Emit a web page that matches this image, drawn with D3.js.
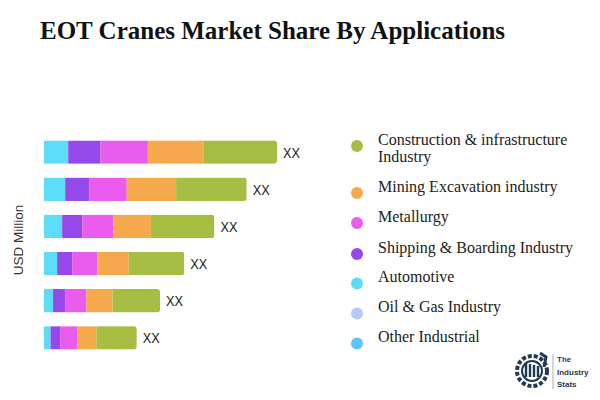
<!DOCTYPE html>
<html>
<head>
<meta charset="utf-8">
<script src="https://cdn.jsdelivr.net/npm/d3@7"></script>
<style>
  body { margin: 0; background: #fff; }
  svg { display: block; }
</style>
</head>
<body>
<div id="container"></div>
<script>
// chart data
var rows = ["r1", "r2", "r3", "r4", "r5", "r6"];
var automotive   = [24, 21, 18, 13, 9, 6.5];
var shipping     = [32, 24, 20, 15, 12, 9.5];
var metallurgy   = [47, 37, 31, 25, 21, 17];
var mining       = [55, 49, 37, 31, 26, 19];
var construction = [73, 70, 63, 55, 47, 40];
var barLabels = ["XX", "XX", "XX", "XX", "XX", "XX"];

var legendNames = ["Construction & infrastructure Industry", "Mining Excavation industry", "Metallurgy",
  "Shipping & Boarding Industry", "Automotive", "Oil & Gas Industry", "Other Industrial"];
var legendColors = ["#a5bd42", "#f5a84c", "#ea5ced", "#9549ea", "#5ddcf8", "#b4c8fb", "#5bc4f8"];

var w = 600, h = 400;

var svg = d3.select("div#container")
  .append("svg")
  .attr("width", w)
  .attr("height", h);

svg.append("text")
  .attr("x", 40)
  .attr("y", 39)
  .attr("font-family", "Liberation Serif, Times New Roman, serif")
  .attr("font-weight", "bold")
  .attr("font-size", 25)
  .attr("fill", "#111")
  .text("EOT Cranes Market Share By Applications");

// stack segments left to right
var keys = ["automotive", "shipping", "metallurgy", "mining", "construction"];
var segColors = ["#5ddcf8", "#9549ea", "#ea5ced", "#f5a84c", "#a5bd42"];
var table = rows.map(function(r, i) {
  return { row: r, automotive: automotive[i], shipping: shipping[i], metallurgy: metallurgy[i],
           mining: mining[i], construction: construction[i] };
});
var series = d3.stack().keys(keys)(table);

var x = d3.scaleLinear().domain([0, 231]).range([44, 277]);
var y = d3.scaleBand().domain(rows).range([133, 357]).paddingInner(0.37).paddingOuter(0.2);

var defs = svg.append("defs");
table.forEach(function(d, i) {
  var total = d3.sum(keys, function(k) { return d[k]; });
  defs.append("clipPath").attr("id", "clip" + i)
    .append("rect")
    .attr("x", x(0) - 4)
    .attr("y", y(d.row))
    .attr("width", x(total) - x(0) + 4)
    .attr("height", y.bandwidth())
    .attr("rx", 3);
});

var bars = svg.append("g");
series.forEach(function(s, si) {
  bars.append("g")
    .attr("fill", segColors[si])
    .selectAll("rect")
    .data(s)
    .join("rect")
    .attr("clip-path", function(d, i) { return "url(#clip" + i + ")"; })
    .attr("x", function(d) { return x(d[0]); })
    .attr("y", function(d) { return y(d.data.row); })
    .attr("width", function(d) { return x(d[1]) - x(d[0]); })
    .attr("height", y.bandwidth());
});

svg.append("g")
  .selectAll("text")
  .data(table)
  .join("text")
  .attr("x", function(d) { return x(d3.sum(keys, function(k) { return d[k]; })) + 6; })
  .attr("y", function(d) { return y(d.row) + y.bandwidth() / 2 + 5.5; })
  .attr("font-family", "Liberation Sans, Arial, sans-serif")
  .attr("font-size", 15)
  .attr("textLength", 17)
  .attr("lengthAdjust", "spacingAndGlyphs")
  .attr("fill", "#222")
  .text(function(d, i) { return barLabels[i]; });

svg.append("text")
  .attr("transform", "translate(22.5,240) rotate(-90)")
  .attr("text-anchor", "middle")
  .attr("font-family", "Liberation Sans, Arial, sans-serif")
  .attr("font-size", 13.5)
  .attr("fill", "#333")
  .text("USD Million");

// legend
var legendY = [146, 193, 223, 254, 283.5, 313.5, 343.5];
var legend = svg.append("g")
  .selectAll("g")
  .data(legendNames)
  .join("g")
  .attr("transform", function(d, i) { return "translate(357," + legendY[i] + ")"; });

legend.append("circle")
  .attr("r", 6)
  .attr("fill", function(d, i) { return legendColors[i]; });

legend.append("text")
  .attr("font-family", "Liberation Serif, Times New Roman, serif")
  .attr("font-size", 16)
  .attr("fill", "#222")
  .each(function(d, i) {
    var t = d3.select(this);
    if (i === 0) {
      t.append("tspan").attr("x", 21).attr("y", -1).text("Construction & infrastructure");
      t.append("tspan").attr("x", 21).attr("y", 16).text("Industry");
    } else {
      t.append("tspan").attr("x", 21).attr("y", -1.5).text(d);
    }
  });

// logo
var logo = svg.append("g").attr("transform", "translate(532,371)");
logo.append("circle").attr("r", 15).attr("fill", "none").attr("stroke", "#1f3b52").attr("stroke-width", 4)
  .attr("stroke-dasharray", "4 2");
logo.append("circle").attr("r", 10).attr("fill", "none").attr("stroke", "#1f3b52").attr("stroke-width", 2);
[-6, -2, 2, 6].forEach(function(dx, i) {
  logo.append("rect").attr("x", dx - 1.2).attr("y", -8 + i).attr("width", 2.4).attr("height", 14 - i)
    .attr("fill", "#1f3b52");
});
logo.append("path").attr("d", "M8,-18 L14,-14 L12,-4").attr("fill", "none")
  .attr("stroke", "#1f3b52").attr("stroke-width", 3);
svg.append("line").attr("x1", 553).attr("x2", 553).attr("y1", 354).attr("y2", 389)
  .attr("stroke", "#999").attr("stroke-width", 0.8);
svg.append("g")
  .selectAll("text")
  .data(["The", "Industry", "Stats"])
  .join("text")
  .attr("x", 557)
  .attr("y", function(d, i) { return 362 + i * 12.5; })
  .attr("font-family", "Liberation Sans, Arial, sans-serif")
  .attr("font-size", 8)
  .attr("font-weight", "bold")
  .attr("fill", "#1f3b52")
  .text(function(d) { return d; });
</script>
</body>
</html>
